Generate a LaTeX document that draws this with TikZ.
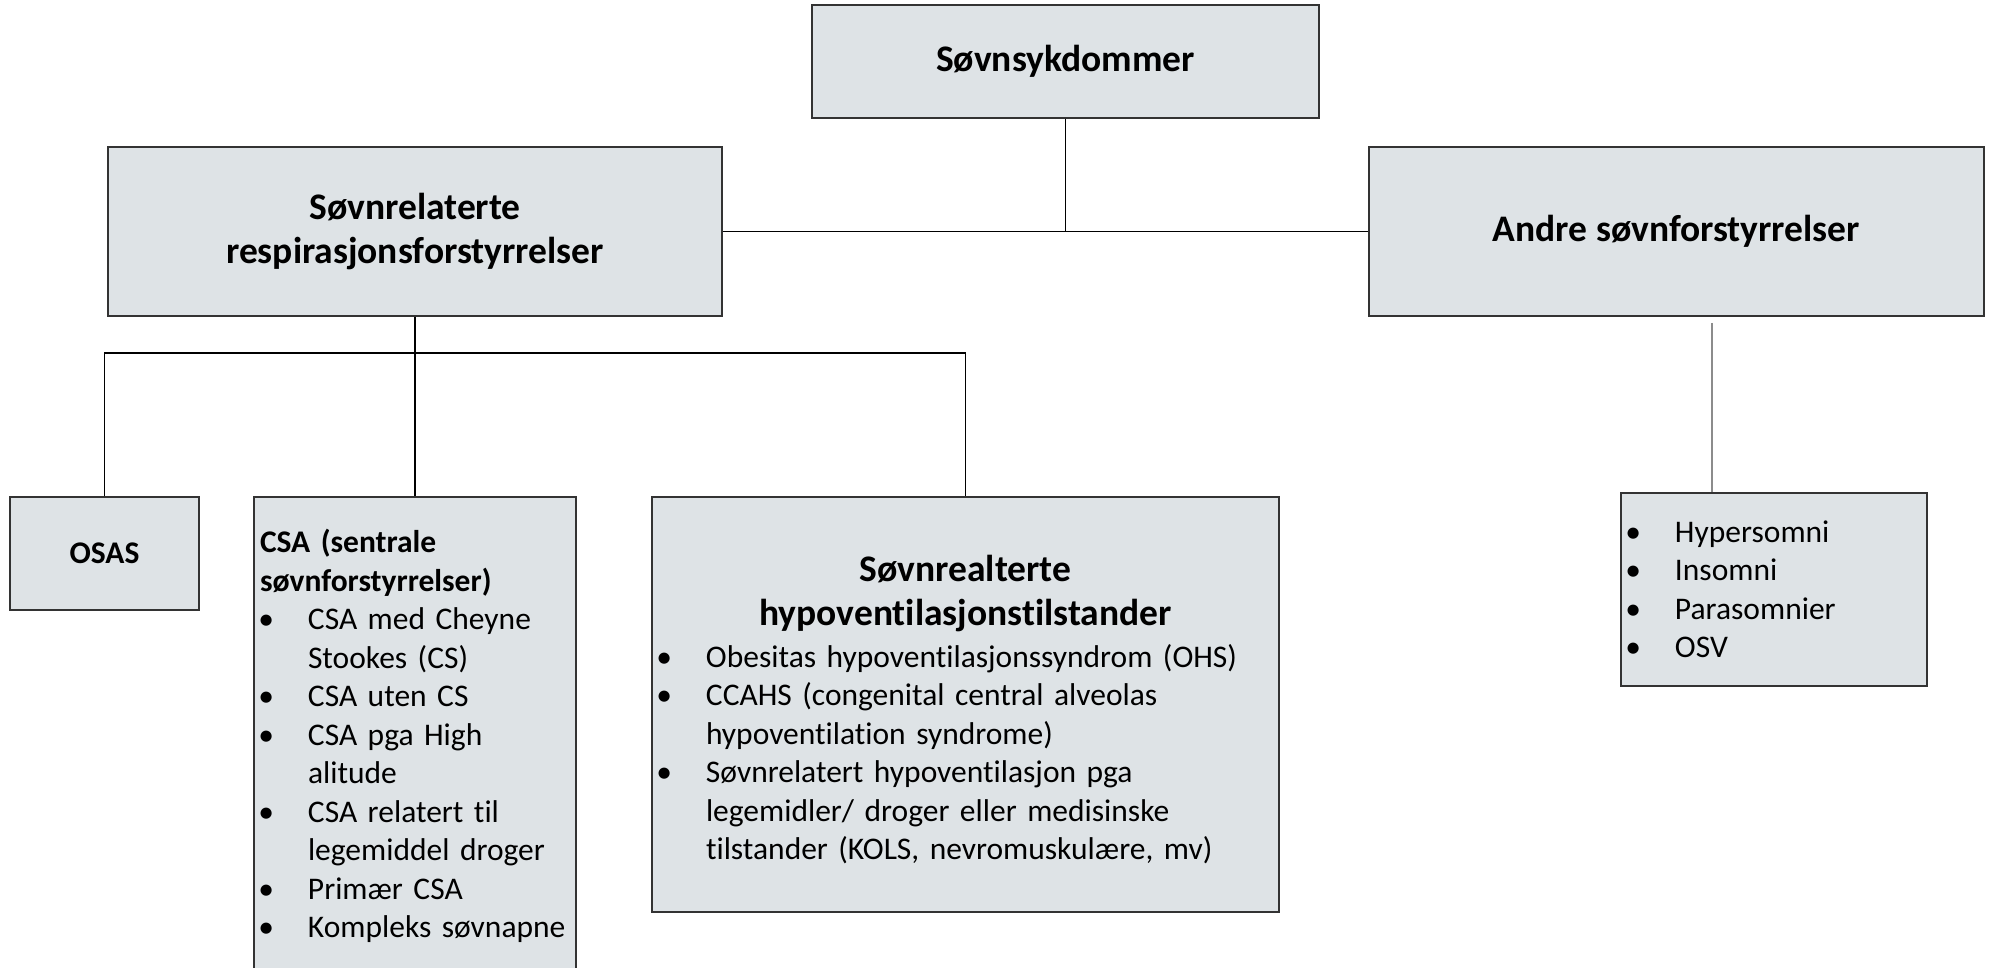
\documentclass[tikz,border=0pt]{standalone}
\usepackage{fontspec}
\setmainfont[Ligatures={NoCommon}]{Carlito}
\definecolor{boksgraa}{HTML}{DEE3E6}
\newcommand{\brodfont}{\fontsize{15.75}{19.25}\selectfont}
\newcommand{\tittelfont}{\fontsize{18.75}{22.4}\selectfont\bfseries}
\newcommand{\pkt}[1]{\noindent\hangindent=24pt\hangafter=1\makebox[24pt][l]{\hspace{-0.8pt}\textbullet}#1\par}
\begin{document}
\begin{tikzpicture}
  [x=0.5pt, y=-0.5pt,
    boks/.style={draw=black!80, line width=0.75pt, fill=boksgraa,
    inner xsep=3pt, inner ysep=0pt},
    tittel/.style={boks, font=\tittelfont, align=center},
    liste/.style={boks, font=\brodfont, align=left},
    strek/.style={line width=0.65pt}]
  \useasboundingbox (0,0) rectangle (1992,968);
  \node[tittel, minimum width=253.5pt, minimum height=56.5pt] (sykdom) at (1065.5,61.5)
    {Søvnsykdommer};
  \node[tittel, minimum width=307pt, minimum height=84.5pt] (resp) at (415,231.5)
    {Søvnrelaterte\\respirasjonsforstyrrelser};
  \node[tittel, minimum width=307.5pt, minimum height=84.5pt] (andre) at (1676.5,231.5)
    {Andre søvnforstyrrelser};
  \node[boks, font=\brodfont\bfseries, minimum width=94.5pt, minimum height=56.5pt] (osas) at (104.5,553.5)
    {OSAS};
  \node[liste, text width=155pt, minimum height=239pt] (csa) at (415,736)
    {{\bfseries CSA (sentrale\newline søvnforstyrrelser)\par}
    \pkt{CSA med Cheyne\newline Stookes (CS)}
    \pkt{CSA uten CS}
    \pkt{CSA pga High\newline alitude}
    \pkt{CSA relatert til\newline legemiddel droger}
    \pkt{Primær CSA}
    \pkt{Kompleks søvnapne}};
  \node[liste, text width=307.5pt, minimum height=207.5pt] (hypo) at (965.5,704.5)
    {{\centering\tittelfont Søvnrealterte\\hypoventilasjonstilstander\par}\vspace{1.5pt}
    \pkt{Obesitas hypoventilasjonssyndrom (OHS)}
    \pkt{CCAHS (congenital central alveolas\newline hypoventilation syndrome)}
    \pkt{Søvnrelatert hypoventilasjon pga\newline legemidler/ droger eller medisinske\newline tilstander (KOLS, nevromuskulære, mv)}\kern-5pt};
  \node[liste, text width=147pt, minimum height=96.5pt] (ovrig) at (1774,589.5)
    {\pkt{Hypersomni}
    \pkt{Insomni}
    \pkt{Parasomnier}
    \pkt{OSV}};
  \coordinate (gren) at (415,353);
  \coordinate (ovtopp) at (1712,323);
  \draw[strek] (sykdom.south) -- (sykdom.south |- andre.west);
  \draw[strek] (resp.east) -- (andre.west);
  \draw[strek] (resp.south) -- (csa.north);
  \draw[strek] (osas.north) |- (gren) -| (hypo.north);
  \draw[strek, draw=black!45] (ovtopp) -- (ovtopp |- ovrig.north);
\end{tikzpicture}
\end{document}
